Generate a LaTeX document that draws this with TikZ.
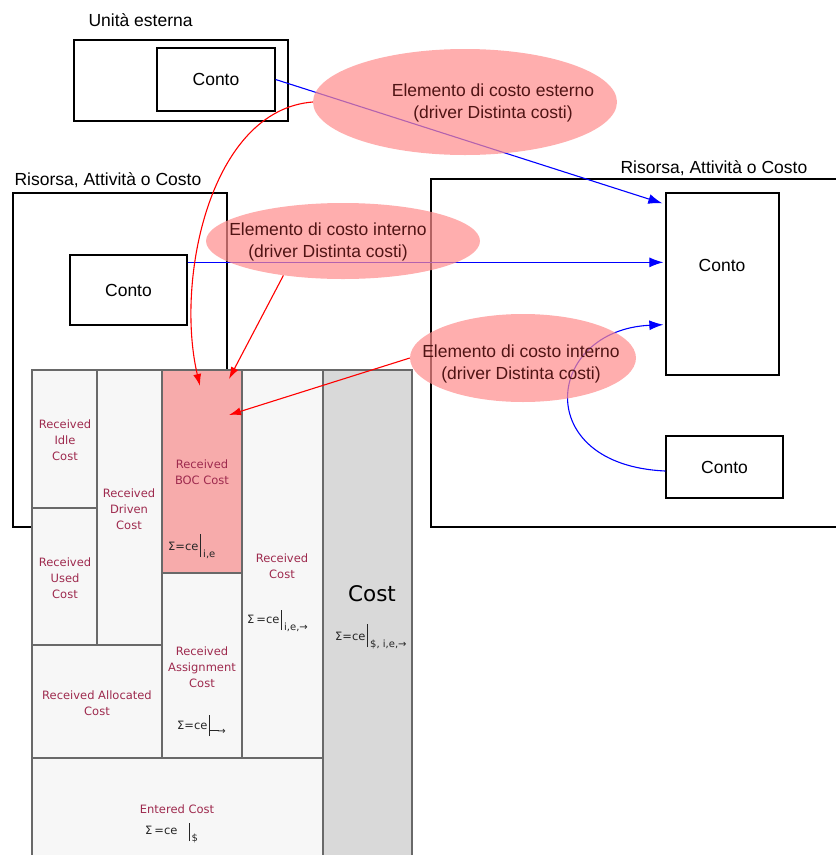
\documentclass[tikz,border=0pt]{standalone}
\usepackage{fontspec}
\setmainfont{Liberation Sans}
\newfontfamily\cellfont{DejaVu Sans}
\usetikzlibrary{shapes.geometric,arrows.meta}

\definecolor{pinkfill}{RGB}{255,140,140}
\definecolor{bocfill}{RGB}{247,171,171}
\definecolor{cellfill}{RGB}{247,247,247}
\definecolor{costfill}{RGB}{217,217,217}
\definecolor{celltext}{RGB}{158,42,78}
\definecolor{celledge}{RGB}{105,105,105}
\definecolor{elltext}{RGB}{80,20,20}

% sum of cost elements with its qualifier
\newcommand\sumce[1]{Σ=ce\,\rule[-7pt]{0.9pt}{23pt}\,\raisebox{-7pt}{\fontsize{10}{10}\selectfont#1}}

\pgfdeclarelayer{front}
\pgfsetlayers{main,front}

\tikzset{
  box/.style={draw, line width=1.3pt},
  conto/.style={box, inner sep=0pt, font=\fontsize{17.5}{20}\selectfont},
  title/.style={anchor=west, font=\fontsize{17.5}{20}\selectfont},
  cell/.style={draw=celledge, line width=1.3pt, fill=cellfill},
  celltxt/.style={text=celltext, align=center, font=\cellfont\fontsize{11.5}{16}\selectfont},
  sumtxt/.style={anchor=base west, inner sep=0pt, text=black!85, font=\cellfont\fontsize{11.5}{14}\selectfont},
  driver/.style={ellipse, inner sep=0pt, fill=pinkfill, fill opacity=0.7, draw=none},
  drivertxt/.style={text=elltext, align=center, font=\fontsize{17.5}{22}\selectfont},
  flow/.style={blue, line width=1.1pt, -{Latex[length=14pt,width=10pt]}},
  boc/.style={red, line width=1.1pt, -{Latex[length=12pt,width=8pt]}},
}

\begin{document}
\begin{tikzpicture}[x=1pt, y=-1pt]
\useasboundingbox (0,0) rectangle (836,855);

% cost drivers, painted over everything else
\begin{pgfonlayer}{front}
  \node[driver, minimum width=304pt, minimum height=106pt] (ext) at (465,102) {};
  \node[driver, minimum width=274pt, minimum height=76pt] (int1) at (343,241) {};
  \node[driver, minimum width=226pt, minimum height=88pt] (int2) at (523,358) {};
  \node[drivertxt] (extlbl) at (493,103) {Elemento di costo esterno\\(driver Distinta costi)};
  \node[drivertxt] (int1lbl) at (328,242) {Elemento di costo interno\\(driver Distinta costi)};
  \node[drivertxt] (int2lbl) at (521,364) {Elemento di costo interno\\(driver Distinta costi)};
\end{pgfonlayer}

% external unit
\node[title] (unit) at (85,20) {Unità esterna};
\draw[box] (74,40) rectangle (288,121);
\node[conto, minimum width=118pt, minimum height=63pt] (ec) at (216,79.5) {Conto};

% source resource
\node[title] (srcres) at (11,180) {Risorsa, Attività o Costo};
\draw[box] (13,193) rectangle (227,527);
\node[conto, minimum width=117pt, minimum height=70pt] (lc) at (128.5,290) {Conto};

% target resource
\node[title] (dstres) at (617,168) {Risorsa, Attività o Costo};
\draw[box] (836,179) -| (431,527) -- (836,527);
\node[conto, minimum width=113pt, minimum height=182pt] (rc) at (722.5,284) {};
\node[font=\fontsize{17.5}{20}\selectfont] (rclbl) at (722,265) {Conto};
\node[conto, minimum width=117pt, minimum height=62pt] (sc) at (724.5,467) {Conto};

% cost buckets
\draw[cell] (32,370) rectangle (97,508);
\draw[cell] (32,508) rectangle (97,645);
\draw[cell] (97,370) rectangle (162,645);
\draw[cell] (32,645) rectangle (162,758);
\draw[cell, fill=bocfill] (162,370) rectangle (242,573);
\draw[cell] (162,573) rectangle (242,758);
\draw[cell] (242,370) rectangle (323,758);
\draw[cell] (32,758) rectangle (323,858);
\draw[cell, fill=costfill] (323,370) rectangle (412,858);

\node[celltxt] (idle) at (65,440) {Received\\Idle\\Cost};
\node[celltxt] (used) at (65,578) {Received\\Used\\Cost};
\node[celltxt] (driven) at (129,509) {Received\\Driven\\Cost};
\node[celltxt] (alloc) at (97,703) {Received Allocated\\Cost};
\node[celltxt] (bocc) at (202,472) {Received\\BOC Cost};
\node[celltxt] (assign) at (202,667) {Received\\Assignment\\Cost};
\node[celltxt] (recv) at (282,566) {Received\\Cost};
\node[celltxt] (entered) at (177,809) {Entered Cost};
\node[text=black, font=\cellfont\fontsize{21.5}{24}\selectfont] (cost) at (372,594) {Cost};

\node[sumtxt] (bocsum) at (168,550) {\sumce{i,e}};
\node[sumtxt] (recvsum) at (247,623) {Σ\,=ce\,\rule[-7pt]{0.9pt}{20pt}\,\raisebox{-7pt}{\fontsize{10}{10}\selectfont i,e,→}};
\node[sumtxt] (costsum) at (335,640) {\sumce{\$, i,e,→}};
\node[sumtxt] (assignsum) at (177,729) {Σ=ce\,\rule[-7pt]{0.9pt}{21pt}\raisebox{-5pt}{\fontsize{10}{10}\selectfont\rule[3.2pt]{9pt}{1pt}\kern-2pt→}};
\node[sumtxt] (entersum) at (145,834) {Σ\,=ce\quad\rule[-7pt]{0.9pt}{18pt}\,\raisebox{-7pt}{\fontsize{10}{10}\selectfont\$}};

% account flows
\coordinate (b1) at ([shift={(0,8)}]lc.north east);
\draw[flow] (ec.east) -- ([shift={(-3,11)}]rc.north west);
\draw[flow] (b1) -- ([xshift=-2pt]b1 -| rc.west);
\draw[flow] ([yshift=-4pt]sc.west) .. controls (530,465) and (545,330) .. ([shift={(-2,-51)}]rc.south west);

% drivers into the BOC bucket
\coordinate (t1) at (200,386);
\coordinate (t2) at (229,379);
\coordinate (t3) at (229,415);
\draw[boc] (ext.west) .. controls (210,110) and (175,280) .. (t1);
\draw[boc] (int1.210) -- (t2);
\draw[boc] (int2.west) -- (t3);
\end{tikzpicture}
\end{document}
